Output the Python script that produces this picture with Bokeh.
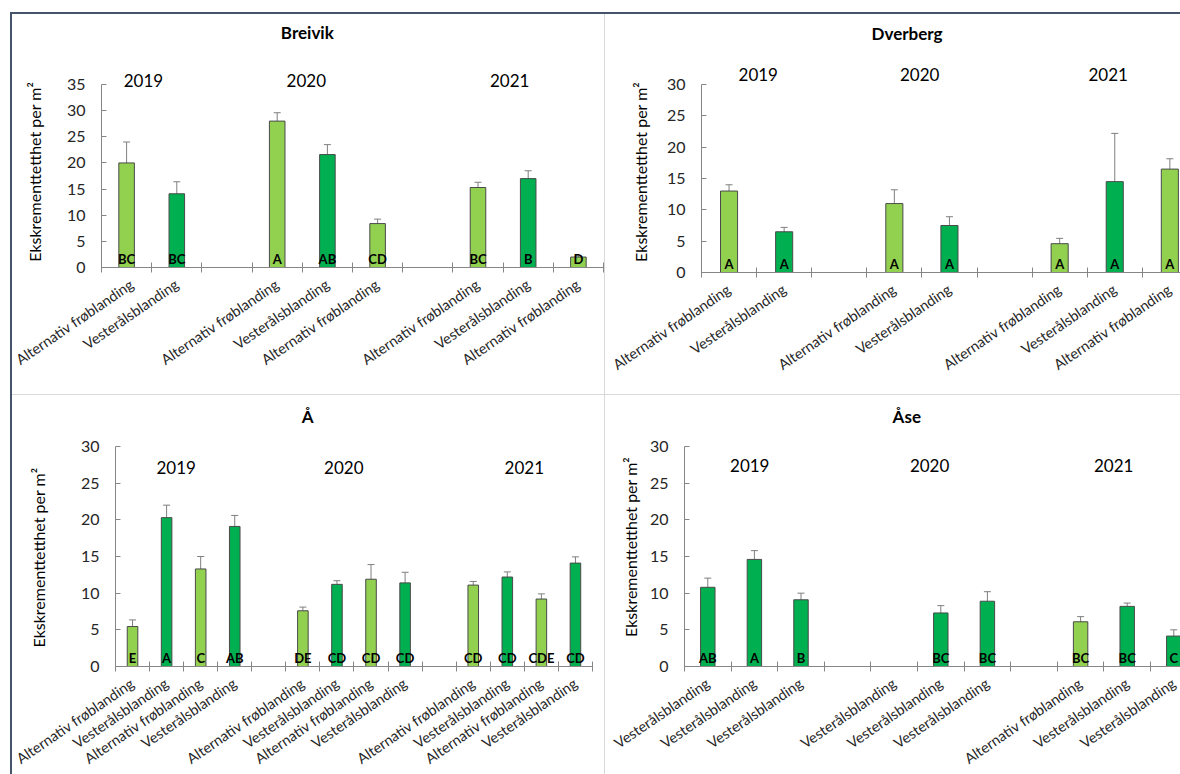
import math
from bokeh.plotting import figure
from bokeh.models import (Range1d, FixedTicker, Label, Whisker, TeeHead,
                          ColumnDataSource, Div, Spacer)
from bokeh.layouts import row, column
from bokeh.core.properties import value
from bokeh.embed import file_html
from bokeh.resources import INLINE

ALT = "Alternativ frøblanding"
VES = "Vesterålsblanding"
YEARS = ["2019", "2020", "2021"]
Y_TITLE = "Ekskrementtetthet per m²"

# ---------------- data ----------------
breivik_labels = [ALT, VES, "", ALT, VES, ALT, "", ALT, VES, ALT]
breivik_values = [20.0, 14.1, None, 28.0, 21.6, 8.4, None, 15.3, 17.0, 2.0]
breivik_errors = [4.0, 2.3, None, 1.6, 1.9, 0.85, None, 1.0, 1.5, 0.2]
breivik_letters = ["BC", "BC", "", "A", "AB", "CD", "", "BC", "B", "D"]

dverberg_labels = [ALT, VES, "", ALT, VES, "", ALT, VES, ALT]
dverberg_values = [13.0, 6.5, None, 11.0, 7.5, None, 4.6, 14.5, 16.5]
dverberg_errors = [1.0, 0.7, None, 2.2, 1.4, None, 0.85, 7.7, 1.65]
dverberg_letters = ["A", "A", "", "A", "A", "", "A", "A", "A"]

aa_labels = [ALT, VES, ALT, VES, "", ALT, VES, ALT, VES, "", ALT, VES, ALT, VES]
aa_values = [5.45, 20.3, 13.3, 19.1, None, 7.6, 11.2, 11.9, 11.4, None, 11.1, 12.2, 9.2, 14.1]
aa_errors = [0.9, 1.7, 1.7, 1.5, None, 0.5, 0.5, 2.0, 1.45, None, 0.5, 0.7, 0.7, 0.85]
aa_letters = ["E", "A", "C", "AB", "", "DE", "CD", "CD", "CD", "", "CD", "CD", "CDE", "CD"]

aase_labels = [VES, VES, VES, "", VES, VES, VES, "", ALT, VES, VES]
aase_values = [10.8, 14.6, 9.1, None, None, 7.3, 8.9, None, 6.1, 8.2, 4.15]
aase_errors = [1.25, 1.2, 0.9, None, None, 1.0, 1.3, None, 0.7, 0.45, 0.85]
aase_letters = ["AB", "A", "B", "", "", "BC", "BC", "", "BC", "BC", "C"]

# ---------------- style ----------------
LIGHT = "#92D050"
DARK = "#00B050"
FONT = "Lato"
AXIS_COL = "#868686"
TXT = "#262626"
BORDER_DARK = "#44546A"
BORDER_LIGHT = "#D9D9D9"


def panel(title, labels, values, errors, letters, ymax, width, height,
          left_px, slot_px, b_right, top_px, axis_px,
          title_pos, year_pos, ylab_pos):
    n = len(labels)
    frame_w = width - b_right
    x_start = -left_px / slot_px
    x_end = x_start + frame_w / slot_px
    unit_px = axis_px / ymax
    y_end = ymax + top_px / unit_px
    y_start = y_end - height / unit_px
    p = figure(width=width, height=height, output_backend="svg", toolbar_location=None,
               x_range=Range1d(x_start, x_end), y_range=Range1d(y_start, y_end),
               min_border_left=0, min_border_right=b_right,
               min_border_top=0, min_border_bottom=0)
    p.outline_line_color = None
    p.xgrid.visible = False
    p.ygrid.visible = False
    p.background_fill_color = "white"
    p.border_fill_color = "white"

    xs, tops, cols, lows, ups, lx, lt = [], [], [], [], [], [], []
    for i in range(n):
        if values[i] is not None:
            xs.append(i + 0.5)
            tops.append(values[i])
            cols.append(LIGHT if labels[i] == ALT else DARK)
            lows.append(values[i] - errors[i])
            ups.append(values[i] + errors[i])
        if letters[i]:
            lx.append(i + 0.5)
            lt.append(letters[i])

    bars = ColumnDataSource(dict(x=xs, top=tops, color=cols, lower=lows, upper=ups))
    p.vbar(x="x", top="top", bottom=0, width=0.31, source=bars, fill_color="color",
           line_color="#4a4a4a", line_width=1)
    head = dict(size=7, line_color="#7F7F7F", line_width=1)
    p.add_layout(Whisker(base="x", lower="lower", upper="upper", source=bars,
                         line_color="#7F7F7F", line_width=1,
                         upper_head=TeeHead(**head), lower_head=TeeHead(**head)))
    p.text(x=lx, y=[0] * len(lx), text=lt, text_align="center", text_baseline="bottom",
           y_offset=-1, text_font=value(FONT), text_font_style="bold",
           text_font_size="13px", text_color="black")

    # x axis drawn at y = 0 inside the frame
    xa = p.xaxis[0]
    xa.fixed_location = 0
    centers = [i + 0.5 for i in range(n) if labels[i]]
    xa.ticker = FixedTicker(ticks=centers, minor_ticks=list(range(0, n + 1)))
    xa.bounds = (0, n)
    xa.major_label_overrides = {i + 0.5: labels[i] for i in range(n) if labels[i]}
    xa.major_label_orientation = 0.6
    xa.major_label_standoff = 10
    xa.major_tick_in = 0
    xa.major_tick_out = 0
    xa.minor_tick_in = 5
    xa.minor_tick_out = 5
    xa.minor_tick_line_color = AXIS_COL
    xa.axis_line_color = AXIS_COL
    xa.major_label_text_font = FONT
    xa.major_label_text_font_size = "14.5px"
    xa.major_label_text_color = TXT

    # y axis drawn at x = 0 inside the frame
    ya = p.yaxis[0]
    ya.fixed_location = 0
    ya.bounds = (0, ymax)
    ya.ticker = FixedTicker(ticks=list(range(0, ymax + 1, 5)))
    ya.major_tick_in = 5
    ya.major_tick_out = 0
    ya.minor_tick_in = 0
    ya.minor_tick_out = 0
    ya.major_tick_line_color = AXIS_COL
    ya.axis_line_color = AXIS_COL
    ya.major_label_standoff = 16
    ya.major_label_text_font = FONT
    ya.major_label_text_font_size = "16px"
    ya.major_label_text_color = TXT

    p.add_layout(Label(x=ylab_pos[0], y=ylab_pos[1], text=Y_TITLE, angle=math.pi / 2,
                       text_align="center", text_baseline="middle", text_font=FONT,
                       text_font_size="16px", text_color="black"))
    p.add_layout(Label(x=title_pos[0], y=title_pos[1], text=title, text_align="center",
                       text_baseline="middle", text_font=FONT, text_font_style="bold",
                       text_font_size="17px", text_color="black"))
    for yr, (yx, yy) in zip(YEARS, year_pos):
        p.add_layout(Label(x=yx, y=yy, text=yr, text_align="center",
                           text_baseline="middle", text_font=FONT,
                           text_font_size="17px", text_color="black"))
    return p


p1 = panel("Breivik", breivik_labels, breivik_values, breivik_errors, breivik_letters,
           35, 592, 380, 89, 50.2, 0, 70, 183,
           (4.1, 44.9), [(0.835, 35.8), (4.08, 35.8), (8.13, 35.8)], (-1.33, 18.3))
p2 = panel("Dverberg", dverberg_labels, dverberg_values, dverberg_errors, dverberg_letters,
           30, 575, 380, 96, 55.1, 0, 70, 188,
           (3.73, 38.2), [(1.03, 31.65), (3.96, 31.65), (7.38, 31.65)], (-1.11, 16.05))
p3 = panel("Å", aa_labels, aa_values, aa_errors, aa_letters,
           30, 592, 379, 103, 34.07, 11, 51, 220,
           (5.64, 34.1), [(1.78, 27.1), (6.70, 27.1), (12.0, 27.1)], (-2.27, 14.86))
p4 = panel("Åse", aase_labels, aase_values, aase_errors, aase_letters,
           30, 575, 379, 79, 46.6, 0, 51, 220,
           (4.77, 34.1), [(1.40, 27.4), (5.26, 27.4), (9.21, 27.4)], (-1.165, 16.3))


def bar(w, h, color):
    return Div(width=w, height=h, margin=0, styles={"background-color": color})


grid = column(
    row(p1, bar(1, 380, BORDER_LIGHT), p2),
    bar(1168, 1, BORDER_LIGHT),
    row(p3, bar(1, 379, BORDER_LIGHT), p4),
)
layout = column(
    Spacer(width=1180, height=12),
    row(Spacer(width=10, height=762),
        column(bar(1170, 2, BORDER_DARK),
               row(bar(2, 760, BORDER_DARK), grid))),
)

open("out.html", "w").write(file_html(layout, INLINE))
